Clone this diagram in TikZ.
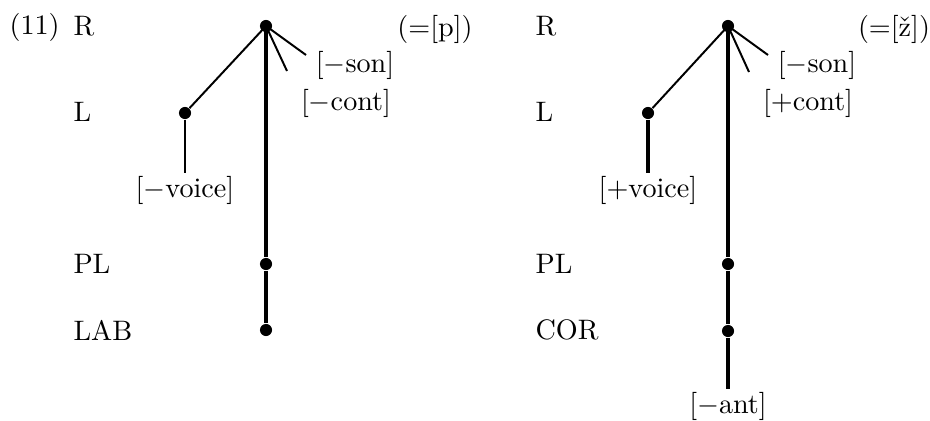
\documentclass[tikz,border=0pt]{standalone}
\usepackage{tikz}
\tikzset{
  dot/.style={circle, fill=black, inner sep=0pt, minimum size=4.3pt},
  tier/.style={anchor=west, inner sep=0pt},
  feat/.style={inner sep=1pt},
  thinlink/.style={line width=0.7pt},
  thicklink/.style={line width=1.3pt},
}

\begin{document}
\begin{tikzpicture}[x=0.355pt, y=-0.355pt]
    \useasboundingbox (0,0) rectangle (930,420);

    %% example number and tier names
    \node[tier] (exnum) at (9,27) {(11)};
    \node[tier] (rP) at (73,26) {R};
    \node[tier] (lnP) at (73,112) {L};
    \node[tier] (plnP) at (73,264) {PL};
    \node[tier] (labnP) at (73,330) {LAB};

    \node[tier] (rZ) at (535,26) {R};
    \node[tier] (lnZ) at (535,112) {L};
    \node[tier] (plnZ) at (535,264) {PL};
    \node[tier] (cornZ) at (535,330) {COR};

    %% left tree: [p]
    \node[dot] (rootP) at (266,26) {};
    \node[dot] (lP) at (185,113) {};
    \node[dot] (plP) at (266,264) {};
    \node[dot] (labP) at (266,330) {};
    \coordinate (sonPend) at (306,55);
    \coordinate (contPend) at (287,71);
    \node[feat] (sonP) at (355,65) {[$-$son]};
    \node[feat] (contP) at (346,103) {[$-$cont]};
    \node[feat] (voiceP) at (185,190) {[$-$voice]};
    \node (segP) at (435,29) {(=[p])};

    \draw[thinlink] (rootP.center) -- (lP);
    \draw[thinlink] (rootP.center) -- (sonPend);
    \draw[thinlink] (rootP.center) -- (contPend);
    \draw[thinlink] (lP) -- (voiceP.north);
    \draw[thicklink] (rootP.center) -- (plP);
    \draw[thicklink] (plP) -- (labP);

    %% right tree: [z-hacek]
    \node[dot] (rootZ) at (728,26) {};
    \node[dot] (lZ) at (648,113) {};
    \node[dot] (plZ) at (728,264) {};
    \node[dot] (corZ) at (728,331) {};
    \coordinate (sonZend) at (768,55);
    \coordinate (contZend) at (749,72);
    \node[feat] (sonZ) at (817,65) {[$-$son]};
    \node[feat] (contZ) at (808,103) {[+cont]};
    \node[feat] (voiceZ) at (648,190) {[+voice]};
    \node[feat] (antZ) at (728,406) {[$-$ant]};
    \node (segZ) at (894,29) {(=[\v{z}])};

    \draw[thinlink] (rootZ.center) -- (lZ);
    \draw[thinlink] (rootZ.center) -- (sonZend);
    \draw[thinlink] (rootZ.center) -- (contZend);
    \draw[thicklink] (lZ) -- (voiceZ.north);
    \draw[thicklink] (rootZ.center) -- (plZ);
    \draw[thicklink] (plZ) -- (corZ);
    \draw[thicklink] (corZ) -- (antZ.north);
  \end{tikzpicture}
\end{document}
